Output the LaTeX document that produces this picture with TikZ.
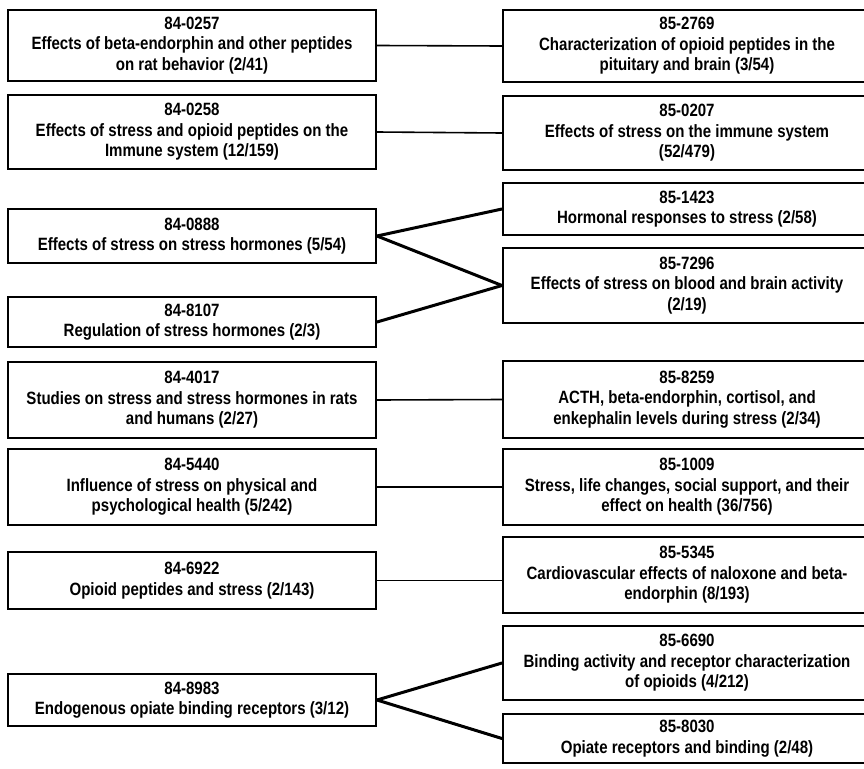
\documentclass[tikz,border=0pt]{standalone}
\usepackage{fontspec}
\newfontfamily\cf{Liberation Sans}[FakeStretch=0.845]
\begin{document}
\begin{tikzpicture}[x=1pt,y=-1pt,
  box/.style={draw, line width=2pt, inner sep=0pt, align=center,
    font={\cf\bfseries\fontsize{17.8}{20.5}\selectfont}},
  lbox/.style={box, minimum width=368pt},
  rbox/.style={box, minimum width=368pt},
  thinlink/.style={line width=1.6pt},
  thicklink/.style={line width=3pt, line cap=round}]
\fill[white] (0,0) rectangle (864,768);
\useasboundingbox (0,0) rectangle (864,768);
% left column
\node[lbox, minimum height=71pt] (L1) at (192,45.5) {84-0257\\Effects of beta-endorphin and other peptides\\on rat behavior (2/41)};
\node[lbox, minimum height=74pt] (L2) at (192,132) {84-0258\\Effects of stress and opioid peptides on the\\Immune system (12/159)};
\node[lbox, minimum height=54pt] (L3) at (192,236) {84-0888\\Effects of stress on stress hormones (5/54)};
\node[lbox, minimum height=50pt] (L4) at (192,322) {84-8107\\Regulation of stress hormones (2/3)};
\node[lbox, minimum height=76pt] (L5) at (192,400) {84-4017\\Studies on stress and stress hormones in rats\\and humans (2/27)};
\node[lbox, minimum height=76pt] (L6) at (192,487) {84-5440\\Influence of stress on physical and\\psychological health (5/242)};
\node[lbox, minimum height=57pt] (L7) at (192,580.5) {84-6922\\Opioid peptides and stress (2/143)};
\node[lbox, minimum height=52pt] (L8) at (192,700) {84-8983\\Endogenous opiate binding receptors (3/12)};
% right column
\node[rbox, minimum height=72pt] (R1) at (687,46) {85-2769\\Characterization of opioid peptides in the\\pituitary and brain (3/54)};
\node[rbox, minimum height=74pt] (R2) at (687,133) {85-0207\\Effects of stress on the immune system\\(52/479)};
\node[rbox, minimum height=52pt] (R3) at (687,209) {85-1423\\Hormonal responses to stress (2/58)};
\node[rbox, minimum height=75pt] (R4) at (687,285.5) {85-7296\\Effects of stress on blood and brain activity\\(2/19)};
\node[rbox, minimum height=77pt] (R5) at (687,399.5) {85-8259\\ACTH, beta-endorphin, cortisol, and\\enkephalin levels during stress (2/34)};
\node[rbox, minimum height=76pt] (R6) at (687,487) {85-1009\\Stress, life changes, social support, and their\\effect on health (36/756)};
\node[rbox, minimum height=76pt] (R7) at (687,575) {85-5345\\Cardiovascular effects of naloxone and beta-\\endorphin (8/193)};
\node[rbox, minimum height=74pt] (R8) at (687,663) {85-6690\\Binding activity and receptor characterization\\of opioids (4/212)};
\node[rbox, minimum height=49pt] (R9) at (687,738.5) {85-8030\\Opiate receptors and binding (2/48)};
% connectors
\draw[thinlink] (L1.east) -- (R1.west);
\draw[thinlink] (L2.east) -- (R2.west);
\draw[thicklink] (L3.east) -- (R3.west);
\draw[thicklink] (L3.east) -- (R4.west);
\draw[thicklink] (L4.east) -- (R4.west);
\draw[thinlink] (L5.east) -- (R5.west);
\draw[thinlink] (L6.east) -- (R6.west);
\draw[thinlink] (L7.east) -- (L7.east -| R7.west);
\draw[thicklink] (L8.east) -- (R8.west);
\draw[thicklink] (L8.east) -- (R9.west);
\end{tikzpicture}
\end{document}
